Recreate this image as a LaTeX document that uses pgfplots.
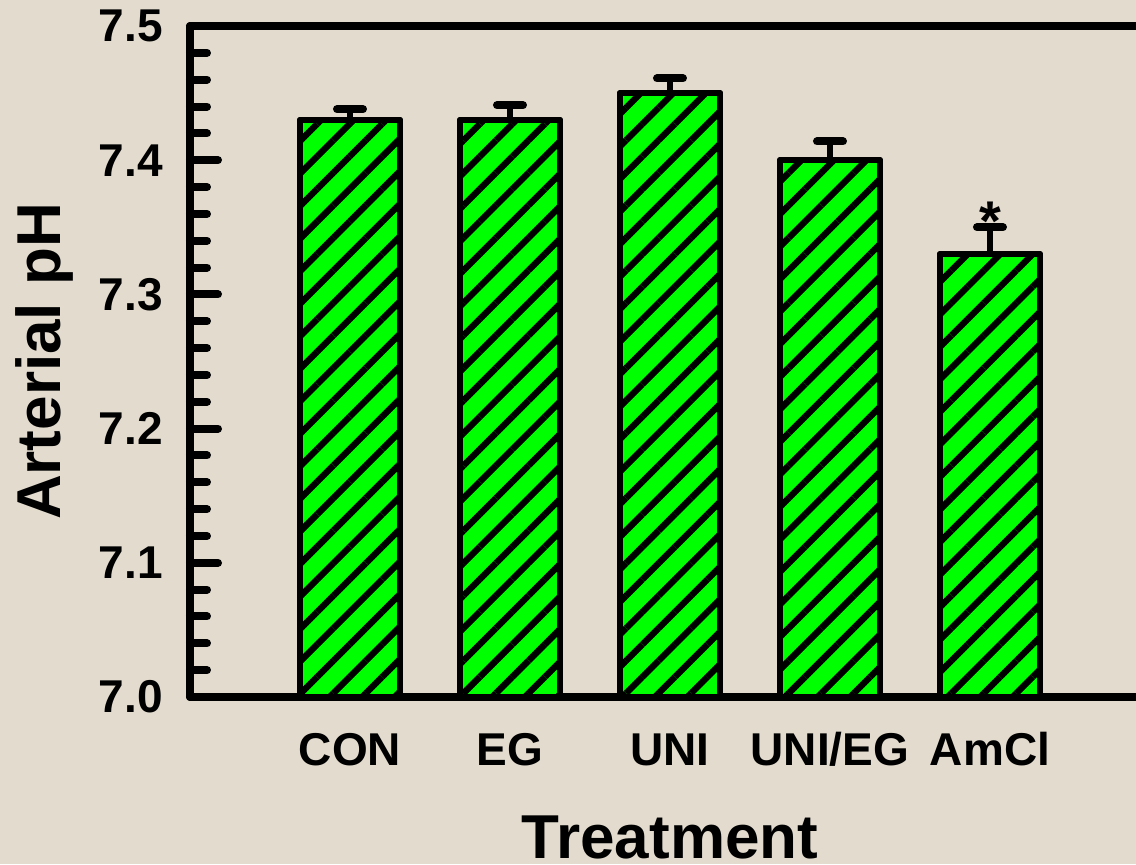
\documentclass[border=0pt]{standalone}
\usepackage{pgfplots}
\pgfplotsset{compat=1.18}
\usepackage{fontspec}
\setmainfont{Liberation Sans}
\usetikzlibrary{patterns.meta}
\definecolor{bg}{HTML}{E2DBCE}
\definecolor{bargreen}{HTML}{00FF00}
\begin{document}
\begin{tikzpicture}
\path[use as bounding box, fill=bg] (0,0) rectangle (568pt,432pt);
\begin{axis}[
  at={(95pt,83.5pt)}, anchor=south west,
  scale only axis, width=480pt, height=335.5pt,
  xmin=-1, xmax=5, ymin=7, ymax=7.5,
  axis line style={line width=4pt, line join=round},
  xtick={0,1,2,3,4},
  xticklabels={CON,EG,UNI,UNI/EG,AmCl},
  xtick style={draw=none},
  xticklabel style={font=\fontsize{23}{23}\selectfont\bfseries, anchor=base, yshift=-34pt},
  ytick={7.0,7.1,7.2,7.3,7.4,7.5},
  minor y tick num=4,
  ytick pos=left,
  tick align=inside,
  major tick length=14pt, minor tick length=8.5pt,
  ytick style={line width=4pt, line cap=round, black},
  minor tick style={line width=4pt, line cap=round, black},
  /pgf/number format/assume math mode=true,
  yticklabel style={font=\fontsize{23}{23}\selectfont\bfseries, xshift=-10pt, /pgf/number format/.cd, fixed, fixed zerofill, precision=1},
  xlabel={Treatment}, ylabel={Arterial pH},
  xlabel style={font=\fontsize{31}{31}\selectfont\bfseries, at={(axis description cs:0.5,-0.24)}, anchor=base, inner sep=0pt},
  ylabel style={font=\fontsize{31}{31}\selectfont\bfseries, at={(axis description cs:-0.135,0.5)}, anchor=base},
  clip=false,
]
\addplot[ybar, bar width=0.625, draw=black, line width=3pt, line join=round, fill=bargreen,
  postaction={pattern={Lines[angle=45, distance=11.5pt, line width=3.2pt]}, pattern color=black},
  error bars/.cd, y dir=plus, y explicit,
  error bar style={line width=3pt, black, solid},
  error mark options={rotate=90, line width=4pt, mark size=6.5pt, line cap=round, black}]
coordinates {
  (0,7.43) +- (0,0.008)
  (1,7.43) +- (0,0.011)
  (2,7.45) +- (0,0.011)
  (3,7.40) +- (0,0.014)
  (4,7.33) +- (0,0.020)
};
\node[anchor=base, font=\fontsize{28}{28}\selectfont\bfseries] at (axis cs:4,7.340) {*};
\end{axis}
\end{tikzpicture}
\end{document}
